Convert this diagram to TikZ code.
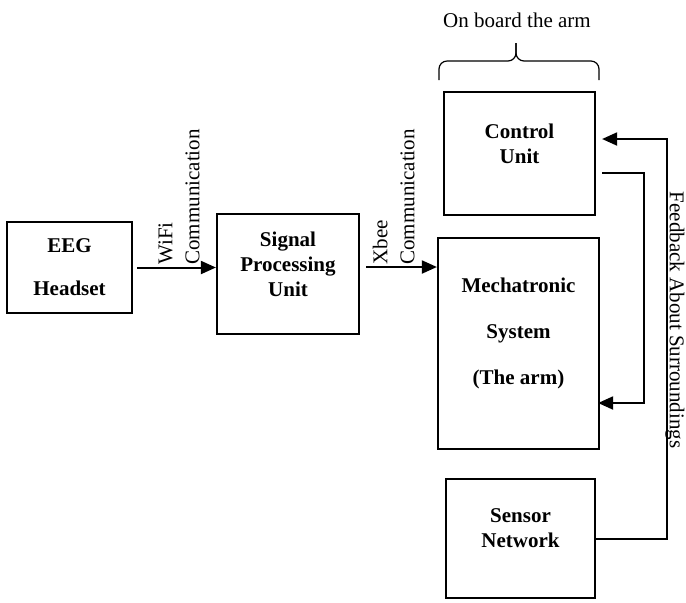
\documentclass[tikz,border=0pt]{standalone}
\usepackage{fontspec}
\setmainfont{Liberation Serif}
\usetikzlibrary{arrows.meta,positioning}

\begin{document}
\begin{tikzpicture}[
  x=0.5pt, y=-0.5pt,
  font=\fontsize{10.5}{12.5}\selectfont,
  block/.style={draw, line width=1.1pt, inner sep=0pt},
  lbl/.style={align=center, font=\fontsize{10.5}{12.5}\selectfont\bfseries},
  vlbl/.style={align=left, inner sep=0pt, font=\fontsize{10.5}{13.5}\selectfont},
  arrow/.style={-{Triangle[length=7.5pt,width=6.5pt]}, line width=1pt},
  curly/.style={line width=0.6pt, rounded corners=4pt}
]
\useasboundingbox (0,0) rectangle (686,602);
\node[block, minimum width=62.5pt, minimum height=45.5pt] (eeg) at (69.5,267.5) {};
\node[block, minimum width=71pt, minimum height=60pt] (spu) at (288,274) {};
\node[block, minimum width=75.5pt, minimum height=61.5pt] (ctrl) at (519.5,153.5) {};
\node[block, minimum width=80.5pt, minimum height=105.5pt] (mech) at (518.5,343.5) {};
\node[block, minimum width=74.5pt, minimum height=59.5pt] (sens) at (520.5,538.5) {};

\node[lbl] (eegtxt) at (eeg) {EEG\\[9pt]Headset};
\node[lbl, yshift=5pt] (sputxt) at (spu) {Signal\\Processing\\Unit};
\node[lbl, yshift=5pt] (ctrltxt) at (ctrl) {Control\\Unit};
\node[lbl, yshift=5pt] (mechtxt) at (mech) {Mechatronic\\[10.5pt]System\\[10.5pt](The arm)};
\node[lbl, yshift=5pt] (senstxt) at (sens) {Sensor\\Network};

\coordinate (xb) at ([yshift=3.5pt]spu.east);
\draw[arrow, shorten <=2pt] (eeg.east) -- (eeg.east -| spu.west);
\draw[arrow, shorten <=3pt] (xb) -- (xb -| mech.west);
\draw[arrow] ([xshift=3pt,yshift=-9.75pt]ctrl.east) -- ++(21pt,0) |- ([xshift=-1pt,yshift=-29.75pt]mech.east);
\draw[arrow] (sens.east) -- ++(35.5pt,0) |- ([xshift=3pt,yshift=7.25pt]ctrl.east);

\node[vlbl, rotate=90, anchor=south west] (wifi) at (200,265) {WiFi\\Communication};
\node[vlbl, rotate=90, anchor=south west] (xbee) at (415,265) {Xbee\\Communication};
\node[rotate=-90] (fback) at (675,320) {Feedback About Surroundings};

\draw[curly] (439,80) -- (439,61) -- (516,61) -- (516,43);
\draw[curly] (599,80) -- (599,61) -- (516,61) -- (516,43);
\node (board) at (517,20) {On board the arm};
\end{tikzpicture}
\end{document}
